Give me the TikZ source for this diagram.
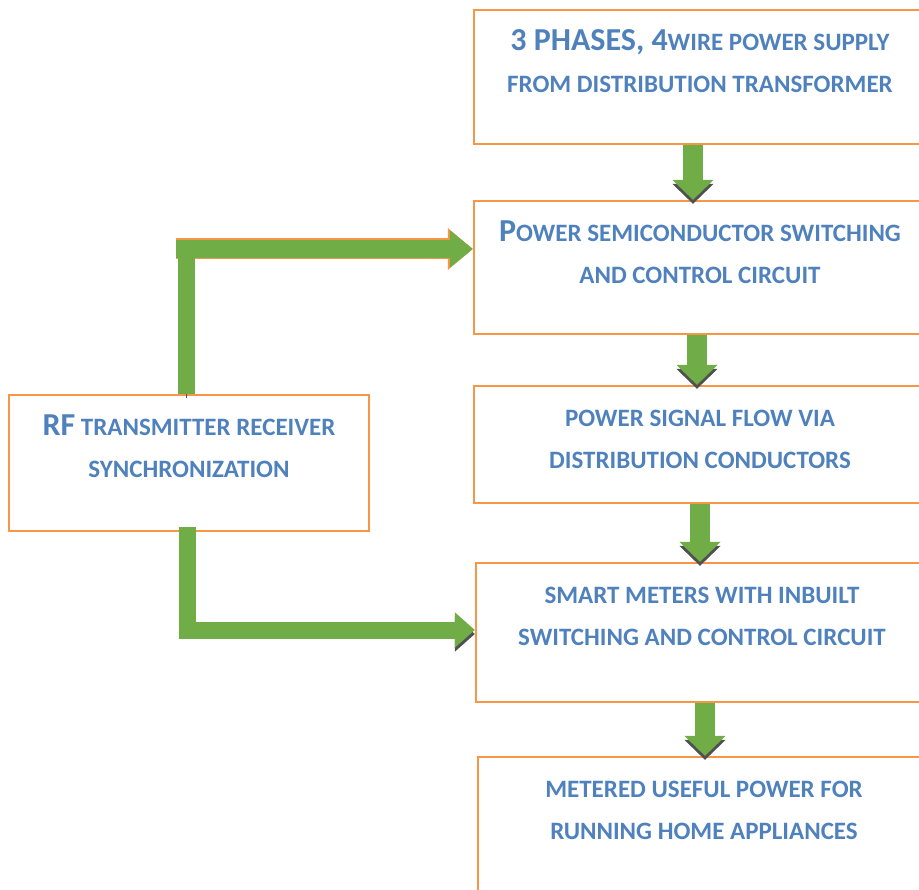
\documentclass[tikz,border=0pt]{standalone}
\usepackage{fontspec}
\setmainfont{Carlito}
\usetikzlibrary{arrows.meta,calc}
\definecolor{boxorange}{HTML}{F79646}
\definecolor{txtblue}{HTML}{4F81BD}
\definecolor{flowgreen}{HTML}{70AD47}
\definecolor{shadegray}{HTML}{505050}
\newcommand{\initcap}[1]{{\fontsize{32}{42}\selectfont #1}}

\begin{document}
\begin{tikzpicture}[x=1pt, y=-1pt,
		box/.style={draw=boxorange, line width=2.2pt, minimum width=452pt},
		boxtext/.style={text=txtblue, font=\bfseries\fontsize{25}{42}\selectfont, align=center, anchor=base, inner sep=0pt},
		downflow/.style={flowgreen, line width=20pt, -{Triangle[length=20pt,width=40pt]}, preaction={draw=shadegray, transform canvas={yshift=-4pt}}},
		elbowflow/.style={flowgreen, line width=17pt, line join=miter, preaction={draw=shadegray, transform canvas={yshift=-4pt}}},
		sideflow/.style={flowgreen, line width=18pt, -{Triangle[length=23pt,width=36pt]}, preaction={draw=boxorange, line width=21pt, -{Triangle[length=25pt,width=40pt]}}}]
		\useasboundingbox (0,0) rectangle (919,890);
		\clip (0,0) rectangle (919,890);

		\draw (700,77) node[box, minimum height=134pt] (supply) {};
		\draw (700,267.5) node[box, minimum height=133pt] (switch) {};
		\draw (700,444.5) node[box, minimum height=117pt] (flow) {};
		\draw (702,632.5) node[box, minimum height=139pt] (meter) {};
		\draw (704,828.5) node[box, minimum height=143pt] (load) {};
		\draw (189,463) node[box, minimum width=360pt, minimum height=136pt] (rf) {};

		% text sits near the top of each box (base = last line)
		\node[boxtext] (supplytxt) at ($(supply.north)+(0,84)$) {\initcap{3 PHASES, 4}WIRE POWER SUPPLY\\FROM DISTRIBUTION TRANSFORMER};
		\node[boxtext] (switchtxt) at ($(switch.north)+(0,84)$) {\initcap{P}OWER SEMICONDUCTOR SWITCHING\\AND CONTROL CIRCUIT};
		\node[boxtext] (flowtxt) at ($(flow.north)+(0,84)$) {POWER SIGNAL FLOW VIA\\DISTRIBUTION CONDUCTORS};
		\node[boxtext] (metertxt) at ($(meter.north)+(0,84)$) {SMART METERS WITH INBUILT\\SWITCHING AND CONTROL CIRCUIT};
		\node[boxtext] (loadtxt) at ($(load.north)+(0,84)$) {METERED USEFUL POWER FOR\\RUNNING HOME APPLIANCES};
		\node[boxtext] (rftxt) at ($(rf.north)+(0,84)$) {\initcap{RF} TRANSMITTER RECEIVER\\SYNCHRONIZATION};

		% straight flow down the right column
		\draw[downflow] ($(supply.south)+(-7,0)$) -- ($(switch.north)+(-7,0)$);
		\draw[downflow] ($(switch.south)+(-3,0)$) -- ($(flow.north)+(-3,0)$);
		\draw[downflow] (flow.south) -- ($(meter.north)+(-2,0)$);
		\draw[downflow] ($(meter.south)+(3,0)$) -- ($(load.north)+(1,0)$);

		% rf link to the switching circuit and to the meters
		\coordinate (upbend) at (186,249);
		\coordinate (lowbend) at (187.5,630);
		\draw[sideflow] ($(upbend)+(-10,0)$) -- (switch.west |- upbend);
		\draw[elbowflow] (rf.north -| upbend) -- ($(upbend)+(0,-2)$);
		\draw[elbowflow, -{Triangle[length=20pt,width=34pt]}] ($(rf.south -| lowbend)+(0,-5)$) -- (lowbend) -- (meter.west |- lowbend);
	\end{tikzpicture}
\end{document}
